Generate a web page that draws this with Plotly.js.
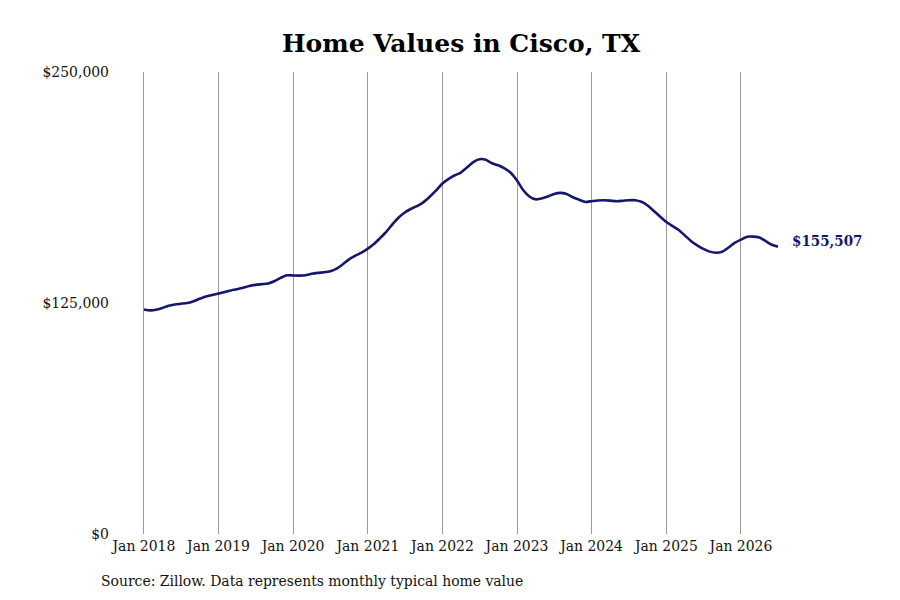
<!DOCTYPE html>
<html>
<head>
<meta charset="utf-8">
<script src="https://cdn.plot.ly/plotly-3.0.1.min.js"></script>
<style>
  body { margin: 0; background: #fff; }
  #chart { width: 900px; height: 600px; }
</style>
</head>
<body>
<div id="chart"></div>
<script>
// monthly typical home value, Jan 2018 .. Jul 2026
let startYear = 2018;
let values = [
    121500, 121000, 121300, 122300, 123500, 124200, 124600, 125000, 126000, 127300, 128500, 129300,
    130100, 131000, 131800, 132400, 133200, 134200, 134800, 135200, 135600, 136800, 138600, 140000,
    139900, 139800, 140000, 140800, 141300, 141600, 142200, 143600, 146000, 148600, 150600, 152200,
    154400, 157000, 160000, 163500, 167600, 171300, 174000, 176000, 177600, 179600, 182600, 185900,
    189700, 192200, 194000, 195600, 198300, 201200, 202800, 202500, 200600, 199500, 197800, 195500,
    191300, 186000, 182800, 181100, 181600, 182600, 184000, 184600, 184000, 182200, 180900, 179700,
    180100, 180500, 180600, 180400, 180100, 180300, 180600, 180600, 179800, 177800, 174800, 171800,
    168800, 166600, 164600, 161600, 158600, 156200, 154300, 152800, 152200, 152700, 155000, 157500,
    159300, 160800, 160900, 160400, 158600, 156500, 155507
];
let yTicks = [0, 125000, 250000];
let yTickText = ['$0', '$125,000', '$250,000'];
let xTicks = ['2018-01-01', '2019-01-01', '2020-01-01', '2021-01-01', '2022-01-01',
              '2023-01-01', '2024-01-01', '2025-01-01', '2026-01-01'];
let xTickText = ['Jan 2018', 'Jan 2019', 'Jan 2020', 'Jan 2021', 'Jan 2022',
                 'Jan 2023', 'Jan 2024', 'Jan 2025', 'Jan 2026'];

function monthDates(n) {
    let arr = [];
    for (let i = 0; i < n; i++) {
        let y = startYear + Math.floor(i / 12);
        let m = (i % 12) + 1;
        arr.push(y + '-' + (m < 10 ? '0' + m : m) + '-01');
    }
    return arr;
}

function fmtMoney(v) {
    return '$' + Math.round(v).toLocaleString('en-US');
}

function main() {
    let dates = monthDates(values.length);
    let lastDate = dates[dates.length - 1];
    let lastValue = values[values.length - 1];
    let serif = '"DejaVu Serif Condensed", "DejaVu Serif", serif';

    var trace = {
        x: dates,
        y: values,
        type: 'scatter',
        mode: 'lines',
        line: { color: '#17176a', width: 2.6, shape: 'spline', smoothing: 0.6 },
        hoverinfo: 'skip'
    };

    var layout = {
        width: 900,
        height: 600,
        paper_bgcolor: '#ffffff',
        plot_bgcolor: '#ffffff',
        showlegend: false,
        margin: { l: 110, r: 90, t: 72, b: 66 },
        font: { family: serif, size: 15.5, color: '#111111' },
        title: {
            text: '<b>Home Values in Cisco, TX</b>',
            font: { family: '"DejaVu Serif", serif', size: 25, color: '#000000' },
            x: 461 / 900,
            xanchor: 'center',
            xref: 'container',
            y: 1 - 43 / 600,
            yanchor: 'middle'
        },
        xaxis: {
            type: 'date',
            range: ['2017-07-19', '2026-12-05'],
            tickvals: xTicks,
            ticktext: xTickText,
            showgrid: true,
            gridcolor: '#9a9a9a',
            gridwidth: 1,
            showline: false,
            zeroline: false,
            ticks: '',
            tickfont: { family: serif, size: 15.5, color: '#111111' },
            fixedrange: true
        },
        yaxis: {
            range: [0, 250000],
            tickvals: yTicks,
            ticktext: yTickText,
            showgrid: false,
            zeroline: false,
            showline: false,
            ticks: '',
            tickfont: { family: serif, size: 15.5, color: '#111111' },
            fixedrange: true
        },
        annotations: [
            {
                x: lastDate,
                y: lastValue,
                xref: 'x',
                yref: 'y',
                text: '<b>' + fmtMoney(lastValue) + '</b>',
                showarrow: false,
                xanchor: 'left',
                yanchor: 'middle',
                xshift: 12,
                yshift: 6,
                font: { family: serif, size: 15, color: '#17176a' }
            },
            {
                // source note, placed relative to the plot area
                x: (99 - 110) / (900 - 110 - 90),
                y: (534 - 581) / (534 - 72),
                xref: 'paper',
                yref: 'paper',
                text: 'Source: Zillow. Data represents monthly typical home value',
                showarrow: false,
                xanchor: 'left',
                yanchor: 'middle',
                font: { family: serif, size: 15.5, color: '#111111' }
            }
        ]
    };

    Plotly.newPlot('chart', [trace], layout, { displayModeBar: false, staticPlot: true });
}

main();
</script>
</body>
</html>
